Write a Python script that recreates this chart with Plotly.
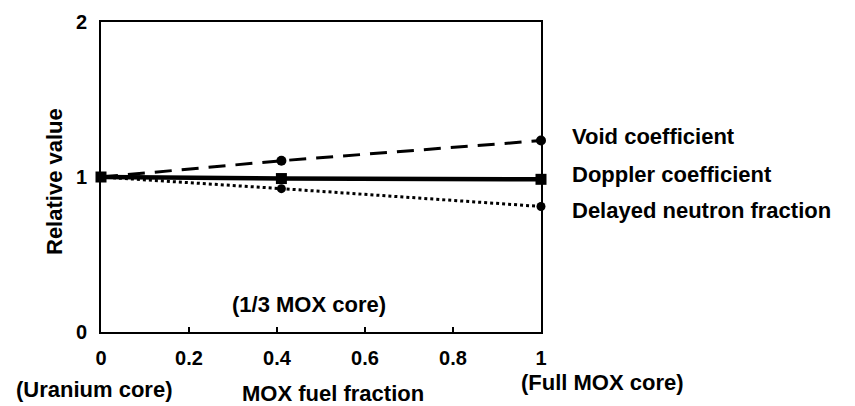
import plotly.graph_objects as go

x_vals = [0, 0.41, 1]
void_coef = [1.0, 1.105, 1.235]
doppler_coef = [1.0, 0.99, 0.985]
delayed_frac = [1.0, 0.925, 0.81]
series_names = ["Void coefficient", "Doppler coefficient", "Delayed neutron fraction"]
x_ticks = [0, 0.2, 0.4, 0.6, 0.8, 1]
x_tick_text = ["0", "0.2", "0.4", "0.6", "0.8", "1"]
y_ticks = [0, 1, 2]

X_RANGE = [0, 1]
Y_RANGE = [0, 2]
FONT = "Liberation Sans, Arial, sans-serif"
TS = 22
TICK_FS = 20

# plot area in pixels (for placing free text)
L, R, T, B = 101, 541, 22, 332


def pxx(p):
    return (p - L) / (R - L)


def pxy(p):
    return (B - p) / (B - T)


fig = go.Figure()

fig.add_trace(go.Scatter(x=x_vals, y=void_coef, mode="lines+markers", name=series_names[0],
                         line=dict(color="black", width=3, dash="17px,10px"),
                         marker=dict(symbol="circle", size=10, color="black"), cliponaxis=False))
fig.add_trace(go.Scatter(x=x_vals, y=doppler_coef, mode="lines+markers", name=series_names[1],
                         line=dict(color="black", width=4.5),
                         marker=dict(symbol="square", size=11, color="black"), cliponaxis=False))
fig.add_trace(go.Scatter(x=x_vals, y=delayed_frac, mode="lines+markers", name=series_names[2],
                         line=dict(color="black", width=3, dash="3px,3px"),
                         marker=dict(symbol="circle", size=9, color="black"), cliponaxis=False))

# Right-side labels
label_pos = [136, 174, 211]
for name, yp in zip(series_names, label_pos):
    fig.add_annotation(x=pxx(570), y=pxy(yp), xref="paper", yref="paper", text="<b>%s</b>" % name,
                       showarrow=False, xanchor="left", yanchor="middle",
                       font=dict(family=FONT, size=TS, color="black"))

fig.add_annotation(x=pxx(309), y=pxy(304), xref="paper", yref="paper", text="<b>(1/3 MOX core)</b>",
                   showarrow=False, xanchor="center", yanchor="middle",
                   font=dict(family=FONT, size=TS, color="black"))
fig.add_annotation(x=pxx(14), y=pxy(389), xref="paper", yref="paper", text="<b>(Uranium core)</b>",
                   showarrow=False, xanchor="left", yanchor="middle",
                   font=dict(family=FONT, size=TS, color="black"))
fig.add_annotation(x=pxx(333), y=pxy(393), xref="paper", yref="paper", text="<b>MOX fuel fraction</b>",
                   showarrow=False, xanchor="center", yanchor="middle",
                   font=dict(family=FONT, size=TS, color="black"))
fig.add_annotation(x=pxx(519), y=pxy(382), xref="paper", yref="paper", text="<b>(Full MOX core)</b>",
                   showarrow=False, xanchor="left", yanchor="middle",
                   font=dict(family=FONT, size=TS, color="black"))
fig.add_annotation(x=pxx(54), y=pxy(182), xref="paper", yref="paper", text="<b>Relative value</b>",
                   showarrow=False, xanchor="center", yanchor="middle", textangle=-90,
                   font=dict(family=FONT, size=TS, color="black"))

fig.update_layout(
    width=855, height=406, autosize=False,
    margin=dict(l=L, r=855 - R, t=T, b=406 - B),
    paper_bgcolor="white", plot_bgcolor="white",
    showlegend=False,
    font=dict(family=FONT, size=TS, color="black"),
)
fig.update_xaxes(range=X_RANGE, tickvals=x_ticks, ticktext=["<b>%s</b>" % t for t in x_tick_text],
                 showgrid=False, zeroline=False, showline=True, linecolor="black", linewidth=2,
                 mirror=True, ticks="inside", ticklen=5, tickcolor="black", tickwidth=1.5,
                 ticklabelstandoff=7, tickfont=dict(family=FONT, size=TICK_FS), automargin=False)
fig.update_yaxes(range=Y_RANGE, tickvals=y_ticks, ticktext=["<b>%d</b>" % t for t in y_ticks],
                 showgrid=False, zeroline=False, showline=True, linecolor="black", linewidth=2,
                 mirror=True, ticks="", ticklabelstandoff=8, tickfont=dict(family=FONT, size=TICK_FS),
                 automargin=False)

fig.write_html("out.html")
